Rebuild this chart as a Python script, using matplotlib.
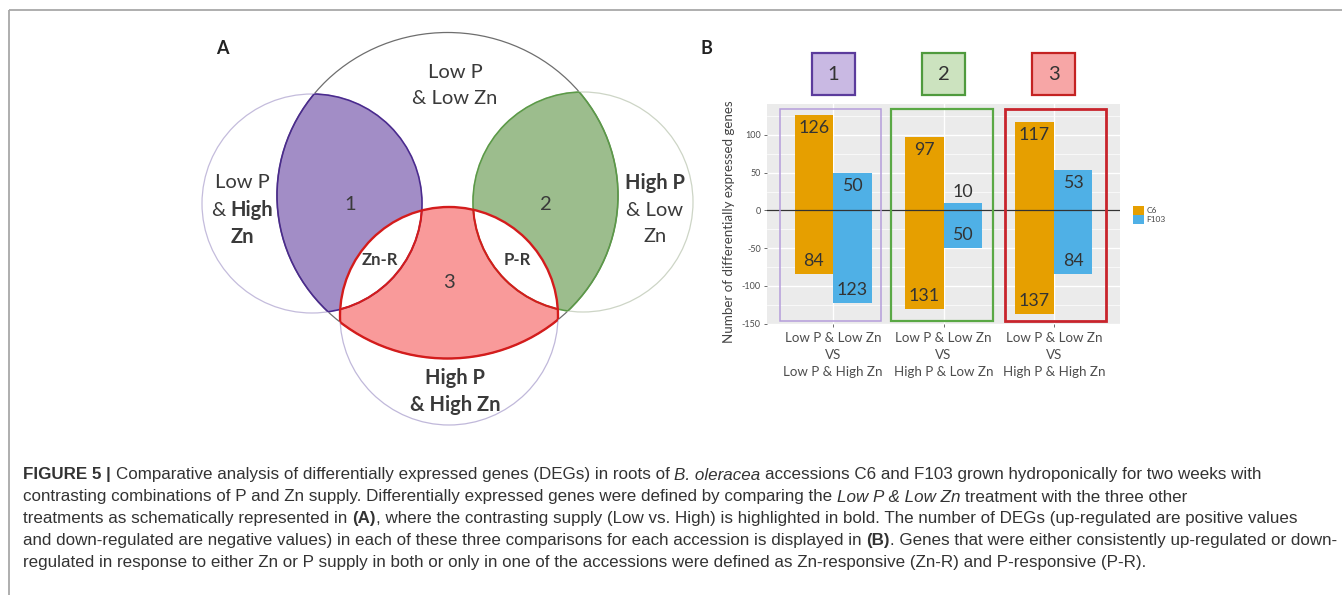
import matplotlib
matplotlib.use('Agg')
import matplotlib.pyplot as plt
from matplotlib.patches import Ellipse, Rectangle, Patch
from matplotlib import font_manager
import numpy as np

# ---------------- data ----------------
comparisons = ['Low P & Low Zn\nVS\nLow P & High Zn',
               'Low P & Low Zn\nVS\nHigh P & Low Zn',
               'Low P & Low Zn\nVS\nHigh P & High Zn']
groups = ['1', '2', '3']
series = ['C6', 'F103']
c6_up = [126, 97, 117]
c6_down = [-84, -131, -137]
f103_up = [50, 10, 53]
f103_down = [-123, -50, -84]
yticks = [-150, -100, -50, 0, 50, 100]

caption_lines = [
    [("FIGURE 5 |", 'bold', 'normal'),
     (" Comparative analysis of differentially expressed genes (DEGs) in roots of ", 'normal', 'normal'),
     ("B. oleracea", 'normal', 'italic'),
     (" accessions C6 and F103 grown hydroponically for two weeks with", 'normal', 'normal')],
    [("contrasting combinations of P and Zn supply. Differentially expressed genes were defined by comparing the ", 'normal', 'normal'),
     ("Low P & Low Zn", 'normal', 'italic'),
     (" treatment with the three other", 'normal', 'normal')],
    [("treatments as schematically represented in ", 'normal', 'normal'),
     ("(A)", 'bold', 'normal'),
     (", where the contrasting supply (Low vs. High) is highlighted in bold. The number of DEGs (up-regulated are positive values", 'normal', 'normal')],
    [("and down-regulated are negative values) in each of these three comparisons for each accession is displayed in ", 'normal', 'normal'),
     ("(B)", 'bold', 'normal'),
     (". Genes that were either consistently up-regulated or down-", 'normal', 'normal')],
    [("regulated in response to either Zn or P supply in both or only in one of the accessions were defined as Zn-responsive (Zn-R) and P-responsive (P-R).", 'normal', 'normal')],
]

# ---------------- fonts ----------------
installed = {f.name for f in font_manager.fontManager.ttflist}
CHART_FONT = 'Lato' if 'Lato' in installed else 'DejaVu Sans'

W, H = 1342, 595
fig = plt.figure(figsize=(W / 100, H / 100), dpi=100)
ax0 = fig.add_axes([0, 0, 1, 1])
ax0.set_xlim(0, W)
ax0.set_ylim(H, 0)
ax0.axis('off')
renderer = fig.canvas.get_renderer()

TXT = '#3a3a3a'

# frame lines
ax0.plot([9, W], [10, 10], color='#a8a8a8', lw=1.3, solid_capstyle='butt')
ax0.plot([9, 9], [10, H], color='#a8a8a8', lw=1.3, solid_capstyle='butt')


def measure(s, size, weight, style, family):
    t = ax0.text(0, 0, s, fontsize=size, fontweight=weight, fontstyle=style, family=family)
    w = t.get_window_extent(renderer=renderer).width
    t.remove()
    return w


def prep_runs(runs, size, family):
    items = []
    total = 0.0
    for s, wt, st in runs:
        sp = measure('x x', size, wt, st, family) - measure('xx', size, wt, st, family)
        lead = len(s) - len(s.lstrip(' '))
        trail = len(s) - len(s.rstrip(' '))
        core = s.strip(' ')
        cw = measure(core, size, wt, st, family) if core else 0
        items.append((core, wt, st, lead * sp, cw, trail * sp))
        total += lead * sp + cw + trail * sp
    return items, total


def draw_runs(x, y, runs, size, family, align='left', color=TXT):
    items, total = prep_runs(runs, size, family)
    x0 = x - total / 2 if align == 'center' else x
    for core, wt, st, l, cw, tr in items:
        x0 += l
        if core:
            ax0.text(x0, y, core, fontsize=size, fontweight=wt, fontstyle=st,
                     family=family, va='center', ha='left', color=color)
        x0 += cw + tr
    return total

# ---------------- Panel A: Venn schematic ----------------
top_c = ((447.5, 195.5), 341, 326)
left_c = ((312, 203.5), 220, 219)
right_c = ((583, 202), 220, 220)
bot_c = ((449, 316), 218, 218)


def ell(spec, **kw):
    (cx, cy), w, h = spec
    return Ellipse((cx, cy), w, h, transform=ax0.transData, **kw)


purple_fill, green_fill, red_fill = '#a28dc6', '#9cbd8d', '#f99a9a'
purple_edge, green_edge, red_edge = '#4a2a8e', '#5b9a47', '#d41c1c'

# fills
p = ell(left_c, facecolor=purple_fill, edgecolor='none'); ax0.add_patch(p); p.set_clip_path(ell(top_c))
p = ell(right_c, facecolor=green_fill, edgecolor='none'); ax0.add_patch(p); p.set_clip_path(ell(top_c))
p = ell(bot_c, facecolor=red_fill, edgecolor='none'); ax0.add_patch(p); p.set_clip_path(ell(top_c))
p = ell(left_c, facecolor='white', edgecolor='none'); ax0.add_patch(p); p.set_clip_path(ell(bot_c))
p = ell(right_c, facecolor='white', edgecolor='none'); ax0.add_patch(p); p.set_clip_path(ell(bot_c))

# light outlines
ax0.add_patch(ell(top_c, fill=False, edgecolor='#6e6e6e', lw=0.9))
ax0.add_patch(ell(left_c, fill=False, edgecolor='#c4bcdc', lw=0.9))
ax0.add_patch(ell(right_c, fill=False, edgecolor='#cdd5c6', lw=0.9))
ax0.add_patch(ell(bot_c, fill=False, edgecolor='#c0b8da', lw=0.9))


def clipped_edge(spec, clip_spec, color, lw):
    e = ell(spec, fill=False, edgecolor=color, lw=lw)
    ax0.add_patch(e)
    e.set_clip_path(ell(clip_spec))

clipped_edge(left_c, top_c, purple_edge, 1.2)
clipped_edge(top_c, left_c, purple_edge, 1.2)
clipped_edge(right_c, top_c, green_edge, 1.2)
clipped_edge(top_c, right_c, green_edge, 1.2)
clipped_edge(bot_c, top_c, red_edge, 1.7)
clipped_edge(top_c, bot_c, red_edge, 1.7)
clipped_edge(left_c, bot_c, red_edge, 1.5)
clipped_edge(right_c, bot_c, red_edge, 1.5)

VS = 14.5
ax0.text(222, 49, 'A', fontsize=13, fontweight='bold', family=CHART_FONT, color='#222222', ha='center', va='center')
ax0.text(706, 48, 'B', fontsize=13, fontweight='bold', family=CHART_FONT, color='#222222', ha='center', va='center')

draw_runs(455, 73, [('Low P', 'normal', 'normal')], VS, CHART_FONT, 'center')
draw_runs(455, 99, [('& Low Zn', 'normal', 'normal')], VS, CHART_FONT, 'center')
draw_runs(242, 183, [('Low P', 'normal', 'normal')], VS, CHART_FONT, 'center')
draw_runs(242, 210, [('& ', 'normal', 'normal'), ('High', 'bold', 'normal')], VS, CHART_FONT, 'center')
draw_runs(242, 237, [('Zn', 'bold', 'normal')], VS, CHART_FONT, 'center')
draw_runs(655, 183, [('High P', 'bold', 'normal')], VS, CHART_FONT, 'center')
draw_runs(655, 211, [('& Low', 'normal', 'normal')], VS, CHART_FONT, 'center')
draw_runs(655, 237, [('Zn', 'normal', 'normal')], VS, CHART_FONT, 'center')
draw_runs(455, 378, [('High P', 'bold', 'normal')], VS, CHART_FONT, 'center')
draw_runs(455, 405, [('& High Zn', 'bold', 'normal')], VS, CHART_FONT, 'center')
ax0.text(350, 205, '1', fontsize=VS, family=CHART_FONT, color=TXT, ha='center', va='center')
ax0.text(546, 205, '2', fontsize=VS, family=CHART_FONT, color=TXT, ha='center', va='center')
ax0.text(449, 283, '3', fontsize=VS, family=CHART_FONT, color=TXT, ha='center', va='center')
ax0.text(380, 260, 'Zn-R', fontsize=12, fontweight='bold', family=CHART_FONT, color=TXT, ha='center', va='center')
ax0.text(517, 260, 'P-R', fontsize=12, fontweight='bold', family=CHART_FONT, color=TXT, ha='center', va='center')

# ---------------- Panel B: bar chart ----------------
pl, pr, pt, pb = 767, 1120, 104, 324
ax = fig.add_axes([pl / W, 1 - pb / H, (pr - pl) / W, (pb - pt) / H])
ax.set_facecolor('#ebebeb')
ax.set_axisbelow(True)
x = np.arange(1, len(comparisons) + 1)
bw = 0.35
c_c6, c_f = '#e69f00', '#4fb0e6'
ax.bar(x - bw / 2, c6_up, bw, color=c_c6, zorder=2)
ax.bar(x - bw / 2, c6_down, bw, color=c_c6, zorder=2)
ax.bar(x + bw / 2, f103_up, bw, color=c_f, zorder=2)
ax.bar(x + bw / 2, f103_down, bw, color=c_f, zorder=2)
ax.set_xlim(0.4, 3.6)
ax.set_ylim(-150.5, 141)
ax.set_yticks(yticks)
ax.set_yticks([-125, -75, -25, 25, 75, 125], minor=True)
ax.set_xticks(x)
ax.set_xticklabels(comparisons, fontsize=9.6, family=CHART_FONT, color='#4d4d4d', linespacing=1.5)
ax.set_yticklabels([str(v) for v in yticks], fontsize=6.5, family=CHART_FONT, color='#4d4d4d')
ax.grid(which='major', color='white', lw=1.0)
ax.grid(which='minor', axis='y', color='white', lw=0.5)
ax.tick_params(axis='both', which='major', length=2.5, color='#555555', width=0.6, pad=2)
ax.tick_params(axis='x', which='major', pad=3)
ax.tick_params(axis='y', which='minor', length=0)
for s in ax.spines.values():
    s.set_visible(False)
ax.axhline(0, color='#333333', lw=0.9, zorder=3)

# value labels
for vals, off in [(c6_up, -bw / 2), (c6_down, -bw / 2), (f103_up, bw / 2), (f103_down, bw / 2)]:
    for xi, v in zip(x, vals):
        if v >= 0:
            dy = -9.4 if v >= 20 else 7.5
        else:
            dy = 9.4
        ax.annotate(str(abs(v)), (xi + off, v), xytext=(0, dy), textcoords='offset points',
                    ha='center', va='center', fontsize=12.8, family=CHART_FONT, color='#333333', zorder=4)

# group highlight rectangles
rect_x = [(0.515, 1.434), (1.525, 2.449), (2.555, 3.47)]
rect_style = [('#b59ddb', 1.1), ('#5aa845', 1.6), ('#c8242c', 2.0)]
for (x0, x1), (col, lw) in zip(rect_x, rect_style):
    ax.add_patch(Rectangle((x0, -147), x1 - x0, 134 + 147, fill=False, edgecolor=col, lw=lw, zorder=5))

# numbered boxes above the panel
box_fill = ['#c9b9e3', '#cce3bf', '#f7a6a6']
box_edge = ['#5b3b9c', '#4f9a3d', '#c42222']
for xi, g, fc, ec in zip(x, groups, box_fill, box_edge):
    ax.add_patch(Rectangle((xi - 0.195, 152.6), 0.39, 56, facecolor=fc, edgecolor=ec, lw=1.6,
                           clip_on=False, zorder=5))
    ax.text(xi, 180.5, g, fontsize=14.5, family=CHART_FONT, color='#333333', ha='center', va='center',
            clip_on=False, zorder=7)

# legend
handles = [Patch(facecolor=c_c6, edgecolor='none'), Patch(facecolor=c_f, edgecolor='none')]
leg = ax.legend(handles, series, loc='center left', bbox_to_anchor=((1133 - pl) / (pr - pl), (pb - 215) / (pb - pt)),
                frameon=False, fontsize=6, handlelength=1.3, handleheight=1.3, labelspacing=0.0,
                handletextpad=0.3, borderpad=0, borderaxespad=0)
for t in leg.get_texts():
    t.set_color('#444444')
    t.set_family(CHART_FONT)

ax0.text(729, 222, 'Number of differentially expressed genes', rotation=90, fontsize=9.6,
         family=CHART_FONT, color='#444444', ha='center', va='center')

# ---------------- caption ----------------
base = 10.0
cap_right = [1337, 1128, 1340, 1318, 1127]   # right end of each printed line (layout)
cap_y = [475, 497, 519, 541, 563]
cap_left = 23
targets = np.array(cap_right, dtype=float) - cap_left
limit = 1338 - cap_left

# choose the installed sans family (and size) whose line lengths best match the print
best = None
for cand in ['Liberation Sans Narrow', 'Liberation Sans', 'Roboto', 'Noto Sans', 'Open Sans', 'Inter', 'Lato', 'DejaVu Sans']:
    if cand not in installed:
        continue
    widths = np.array([prep_runs(r, base, cand)[1] for r in caption_lines])
    k = float(np.dot(targets, widths) / np.dot(widths, widths))
    k = min(k, limit / widths.max())
    err = float(np.sum((k * widths - targets) ** 2))
    if best is None or err < best[0]:
        best = (err, cand, k)
_, CAP_FONT, kfit = best
cap_size = base * kfit
for runs, yy in zip(caption_lines, cap_y):
    draw_runs(cap_left, yy, runs, cap_size, CAP_FONT, 'left', color='#333333')

fig.savefig('out.png', dpi=100)
